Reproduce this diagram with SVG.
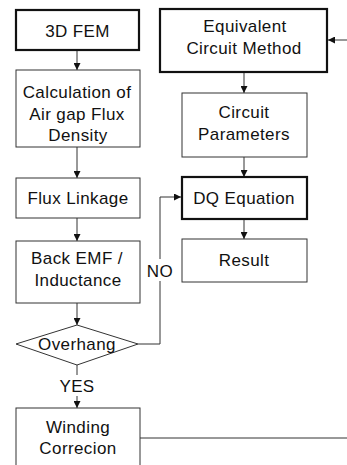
<svg xmlns="http://www.w3.org/2000/svg" width="347" height="465" viewBox="0 0 347 465">
<defs>
<marker id="ah" viewBox="0 0 10 10" refX="10" refY="5" markerWidth="7" markerHeight="7" markerUnits="userSpaceOnUse" orient="auto">
<path d="M0,0 L10,5 L0,10 z" fill="#111"/>
</marker>
</defs>
<style>
text{font-family:"Liberation Sans",Arial,sans-serif;font-size:17px;fill:#111;text-anchor:middle;letter-spacing:0.4px}
.thin{fill:#fff;stroke:#333;stroke-width:1}
.thick{fill:#fff;stroke:#111;stroke-width:2.2}
.ln{fill:none;stroke:#333;stroke-width:1}
</style>
<rect width="347" height="465" fill="#fff"/>
<g id="connectors">
<line class="ln" x1="77" y1="51" x2="77" y2="70" marker-end="url(#ah)"/>
<line class="ln" x1="77" y1="147" x2="77" y2="178" marker-end="url(#ah)"/>
<line class="ln" x1="77" y1="218" x2="77" y2="241" marker-end="url(#ah)"/>
<line class="ln" x1="77" y1="303" x2="77" y2="325" marker-end="url(#ah)"/>
<line class="ln" x1="77" y1="365" x2="77" y2="375"/>
<line class="ln" x1="77" y1="396" x2="77" y2="408" marker-end="url(#ah)"/>
<polyline class="ln" points="138,344 160,344 160,281"/>
<polyline class="ln" points="160,259 160,197 181,197" marker-end="url(#ah)"/>
<line class="ln" x1="347" y1="40" x2="328" y2="40" marker-end="url(#ah)"/>
<line class="ln" x1="244" y1="73" x2="244" y2="93" marker-end="url(#ah)"/>
<line class="ln" x1="244" y1="157" x2="244" y2="177" marker-end="url(#ah)"/>
<line class="ln" x1="244" y1="220" x2="244" y2="239" marker-end="url(#ah)"/>
<line class="ln" x1="140" y1="438" x2="347" y2="438"/>
<text x="160" y="277">NO</text>
<text x="77" y="392">YES</text>
</g>
<g id="fem">
<rect class="thick" x="16" y="10" width="123" height="40"/>
<text x="77.5" y="37">3D FEM</text>
</g>
<g id="calc">
<rect class="thin" x="16" y="70" width="124" height="77"/>
<text x="77" y="98">Calculation of</text>
<text x="77" y="120">Air gap Flux</text>
<text x="78" y="141">Density</text>
</g>
<g id="flux">
<rect class="thin" x="16" y="178" width="124" height="40"/>
<text x="78" y="204">Flux Linkage</text>
</g>
<g id="emf">
<rect class="thin" x="16" y="241" width="124" height="62"/>
<text x="77" y="264">Back EMF /</text>
<text x="78" y="286">Inductance</text>
</g>
<g id="overhang">
<polygon class="thin" points="16,344 77,325 138,344 77,365"/>
<text x="77" y="350">Overhang</text>
</g>
<g id="winding">
<rect class="thin" x="16" y="408" width="124" height="70"/>
<text x="78" y="433">Winding</text>
<text x="78" y="454">Correcion</text>
</g>
<g id="ecm">
<rect class="thick" x="160" y="9" width="167" height="63"/>
<text x="245" y="32">Equivalent</text>
<text x="244" y="54">Circuit Method</text>
</g>
<g id="params">
<rect class="thin" x="182" y="93" width="125" height="64"/>
<text x="244" y="118">Circuit</text>
<text x="244" y="140">Parameters</text>
</g>
<g id="dq">
<rect class="thick" x="182" y="177" width="125" height="42"/>
<text x="244" y="204">DQ Equation</text>
</g>
<g id="result">
<rect class="thin" x="182" y="239" width="125" height="43"/>
<text x="244" y="266">Result</text>
</g>
</svg>
